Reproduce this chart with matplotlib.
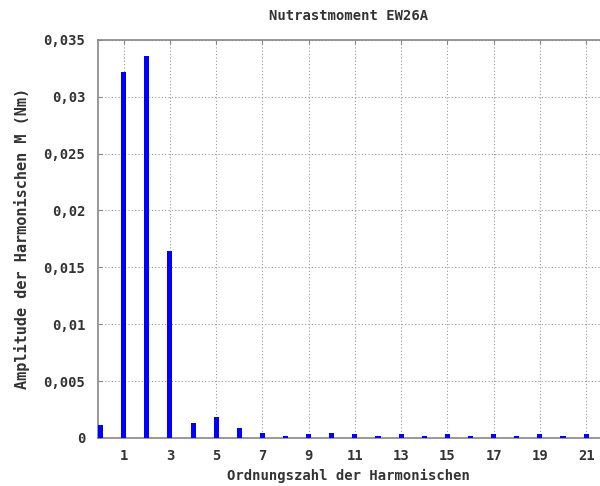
import matplotlib
matplotlib.use("Agg")
import matplotlib.pyplot as plt
import numpy as np

# harmonic order and amplitude (Nm)
orders = np.arange(0, 22)
amplitudes = [0.00115, 0.0322, 0.0336, 0.0164, 0.0013, 0.0018, 0.00085, 0.0004,
              0.0002, 0.0003, 0.0004, 0.0003, 0.0002, 0.0003, 0.0002, 0.0003,
              0.0002, 0.0003, 0.0002, 0.0003, 0.0002, 0.0003]
xticks = list(range(1, 22, 2))
yticks = [0, 0.005, 0.01, 0.015, 0.02, 0.025, 0.03, 0.035]
ytick_labels = ["0", "0,005", "0,01", "0,015", "0,02", "0,025", "0,03", "0,035"]

plt.rcParams['font.family'] = ['DejaVu Sans Mono']
plt.rcParams['font.weight'] = 'bold'

txt = '#333333'

fig = plt.figure(figsize=(6, 4.86), dpi=100)
ax = fig.add_axes([0.163, 0.099, 0.837, 0.819])

ax.bar(orders, amplitudes, width=0.22, color='#0000ff', zorder=3)

ax.set_xlim(-0.12, 21.6)
ax.set_ylim(0, 0.035)
ax.set_xticks(xticks)
ax.set_yticks(yticks)
ax.set_yticklabels(ytick_labels)

# dotted grid
ax.grid(True, linestyle=(0, (1, 2)), color='#999999', linewidth=0.8, zorder=0)

for s in ['left', 'bottom', 'top']:
    ax.spines[s].set_color('#888888')
    ax.spines[s].set_linewidth(1.2)
ax.spines['right'].set_visible(False)

ax.tick_params(axis='both', labelsize=10, labelcolor=txt, color='#888888',
               length=3, direction='in')
ax.tick_params(axis='x', top=True, pad=8)
ax.tick_params(axis='y', pad=9)

ax.set_title("Nutrastmoment EW26A", fontsize=10, color=txt, pad=14, fontweight='bold')
ax.set_xlabel("Ordnungszahl der Harmonischen", fontsize=10, color=txt, labelpad=4,
              fontweight='bold')
ax.set_ylabel("Amplitude der Harmonischen M (Nm)", fontsize=11, color=txt, labelpad=10,
              fontweight='bold')

fig.savefig("out.png", dpi=100)
